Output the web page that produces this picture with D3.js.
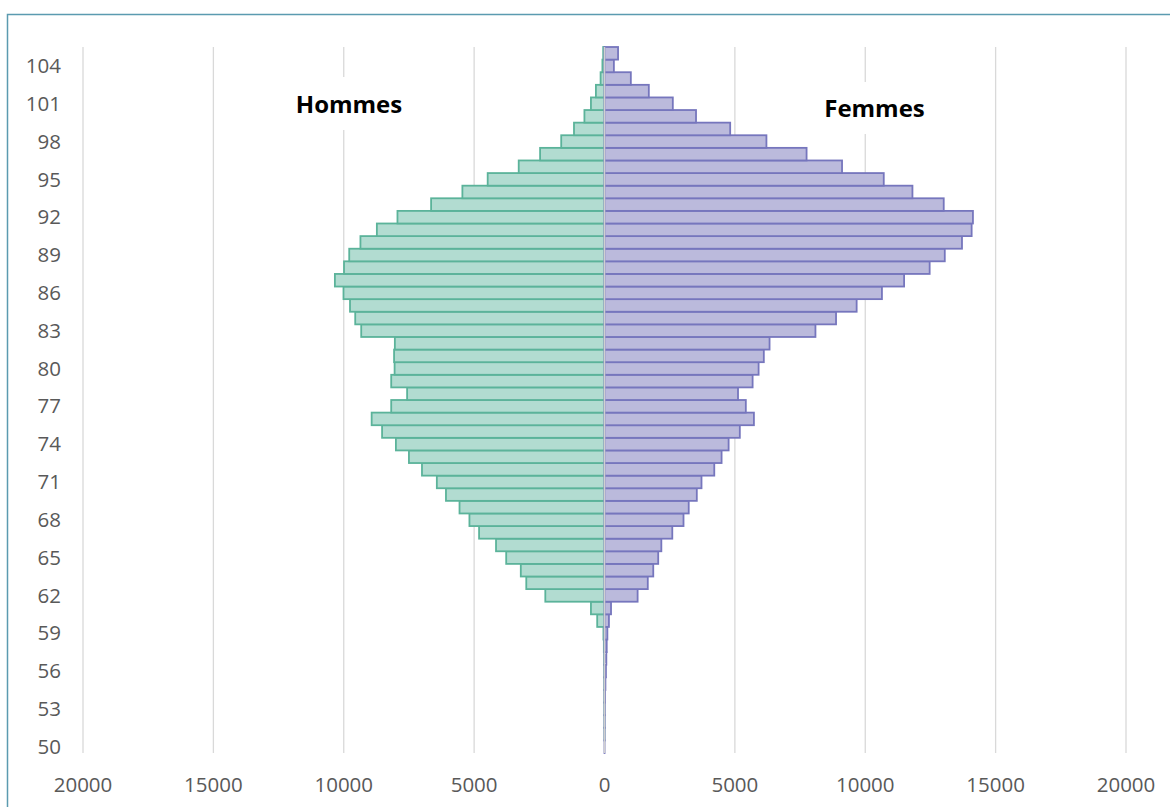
<!DOCTYPE html>
<html>
<head>
<meta charset="utf-8">
<script src="https://cdn.jsdelivr.net/npm/d3@7"></script>
<style>
  html, body { margin: 0; padding: 0; background: #fff; }
  svg { display: block; }
</style>
</head>
<body>
<svg id="chart" width="1170" height="807"></svg>
<script>
// Ages (ascending)
const ages = d3.range(50, 106);
// Men (Hommes), ages 50..105
const hommes = [
  0, 1, 2, 4, 6, 8, 10, 15, 25, 40,          // 50-59
  280, 520, 2270, 3000, 3210, 3770, 4160, 4810, 5180, 5560, // 60-69
  6080, 6430, 7000, 7500, 8000, 8530, 8930, 8180, 7570, 8180, // 70-79
  8050, 8070, 8040, 9330, 9560, 9760, 10010, 10340, 9990, 9790, // 80-89
  9360, 8730, 7940, 6650, 5450, 4480, 3290, 2470, 1660, 1170, // 90-99
  770, 520, 330, 150, 80, 50                                  // 100-105
];
// Women (Femmes), ages 50..105
const femmes = [
  2, 4, 8, 12, 20, 35, 55, 70, 85, 110,       // 50-59
  170, 250, 1270, 1660, 1870, 2060, 2180, 2600, 3030, 3230, // 60-69
  3540, 3720, 4210, 4490, 4760, 5190, 5730, 5420, 5120, 5680, // 70-79
  5910, 6110, 6330, 8090, 8880, 9670, 10640, 11490, 12470, 13050, // 80-89
  13710, 14080, 14130, 13010, 11810, 10710, 9110, 7750, 6210, 4820, // 90-99
  3510, 2620, 1700, 1010, 360, 520                              // 100-105
];
const xTicks = [-20000, -15000, -10000, -5000, 0, 5000, 10000, 15000, 20000];
const yTickAges = d3.range(50, 105, 3);
const seriesLabels = ["Hommes", "Femmes"];

const svg = d3.select("#chart");

// frame
svg.append("rect")
  .attr("x", 7.5).attr("y", 14.5)
  .attr("width", 1250).attr("height", 900)
  .attr("fill", "#fff")
  .attr("stroke", "#5b9bb0").attr("stroke-width", 1.5);

const x = d3.scaleLinear().domain([-20000, 20000]).range([83, 1126]);
const y = d3.scaleBand().domain(ages.slice().reverse()).range([47, 753]).padding(0);

const font = "'Open Sans', 'Liberation Sans', sans-serif";

// gridlines
svg.append("g").selectAll("line")
  .data(xTicks.filter(d => d !== 0))
  .join("line")
  .attr("x1", d => x(d)).attr("x2", d => x(d))
  .attr("y1", 47).attr("y2", 753)
  .attr("stroke", "#d9d9d9").attr("stroke-width", 1.3);

// bars
const men = ages.map((a, i) => ({ age: a, v: hommes[i] }));
const women = ages.map((a, i) => ({ age: a, v: femmes[i] }));

svg.append("g").selectAll("rect")
  .data(men)
  .join("rect")
  .attr("x", d => x(-d.v))
  .attr("y", d => y(d.age))
  .attr("width", d => x(0) - x(-d.v))
  .attr("height", y.bandwidth())
  .attr("fill", "#b2dcd1")
  .attr("stroke", "#5bb39a")
  .attr("stroke-width", 1.8);

svg.append("g").selectAll("rect")
  .data(women)
  .join("rect")
  .attr("x", x(0))
  .attr("y", d => y(d.age))
  .attr("width", d => x(d.v) - x(0))
  .attr("height", y.bandwidth())
  .attr("fill", "#bbbadc")
  .attr("stroke", "#7676bd")
  .attr("stroke-width", 1.8);

// zero axis line
svg.append("line")
  .attr("x1", x(0)).attr("x2", x(0))
  .attr("y1", 47).attr("y2", 753)
  .attr("stroke", "#d0d0d0").attr("stroke-width", 1.5);

// y tick labels
svg.append("g").selectAll("text")
  .data(yTickAges)
  .join("text")
  .attr("x", 61)
  .attr("y", d => y(d) + y.bandwidth() / 2)
  .attr("dy", "0.35em")
  .attr("text-anchor", "end")
  .attr("font-family", font)
  .attr("font-size", "20.5px")
  .attr("fill", "#595959")
  .text(d => d);

// x tick labels
svg.append("g").selectAll("text")
  .data(xTicks)
  .join("text")
  .attr("x", d => x(d))
  .attr("y", 792)
  .attr("text-anchor", "middle")
  .attr("font-family", font)
  .attr("font-size", "20.5px")
  .attr("fill", "#595959")
  .text(d => Math.abs(d));

// series labels with white backgrounds
const lab = [
  { t: seriesLabels[0], cx: 349, by: 113.3, boxTop: 77, boxBot: 130 },
  { t: seriesLabels[1], cx: 874.5, by: 117.3, boxTop: 82, boxBot: 134 }
];
lab.forEach(l => {
  const g = svg.append("g");
  const bg = g.append("rect");
  const t = g.append("text")
    .attr("x", l.cx).attr("y", l.by)
    .attr("text-anchor", "middle")
    .attr("font-family", font)
    .attr("font-weight", "bold")
    .attr("font-size", "24px")
    .attr("fill", "#000")
    .text(l.t);
  const bb = t.node().getBBox();
  bg.attr("x", bb.x - 10).attr("width", bb.width + 20)
    .attr("y", l.boxTop).attr("height", l.boxBot - l.boxTop)
    .attr("fill", "#fff");
});
</script>
</body>
</html>
